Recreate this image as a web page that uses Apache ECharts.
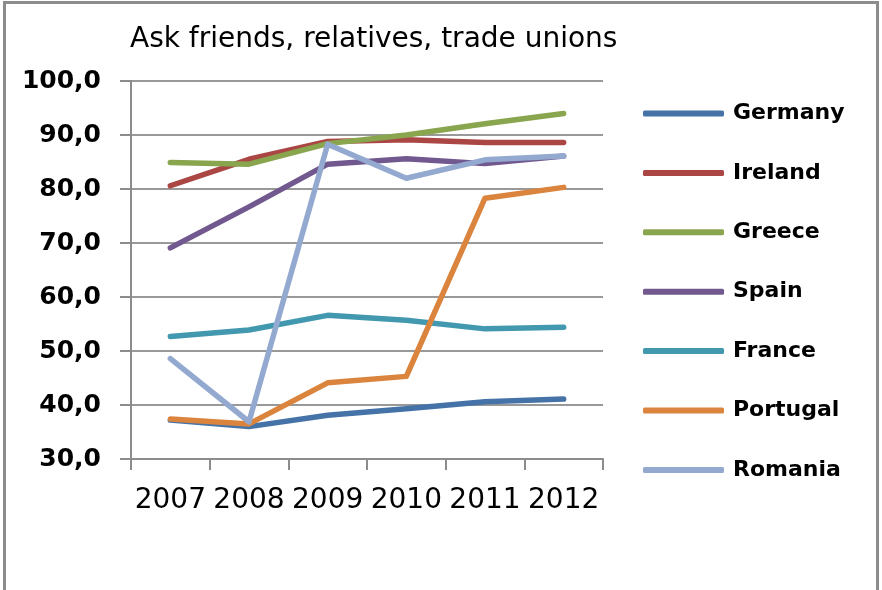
<!DOCTYPE html>
<html>
<head>
<meta charset="utf-8">
<script src="https://cdn.jsdelivr.net/npm/echarts@6/dist/echarts.min.js"></script>
<style>
  html, body { margin: 0; padding: 0; background: #fff; }
  #chart { width: 882px; height: 590px; }
</style>
</head>
<body>
<div id="chart"></div>
<script>
// Survey share answering "Ask friends, relatives, trade unions", by country and year
const years = ['2007', '2008', '2009', '2010', '2011', '2012'];
const countries = ['Germany', 'Ireland', 'Greece', 'Spain', 'France', 'Portugal', 'Romania'];
const germany  = [37.2, 36.0, 38.1, 39.3, 40.6, 41.1];
const ireland  = [80.6, 85.5, 88.8, 89.1, 88.6, 88.6];
const greece   = [84.9, 84.6, 88.4, 90.0, 92.1, 94.0];
const spain    = [69.1, 76.7, 84.6, 85.6, 84.7, 86.1];
const france   = [52.7, 53.9, 56.6, 55.7, 54.1, 54.4];
const portugal = [37.4, 36.5, 44.1, 45.3, 78.3, 80.3];
const romania  = [48.6, 36.9, 88.3, 82.0, 85.4, 86.1];
const yMin = 30, yMax = 100, yStep = 10;

const values = [germany, ireland, greece, spain, france, portugal, romania];
const palette = ['#4572A7', '#AA4643', '#89A54E', '#71588F', '#4198AF', '#DB843D', '#93A9CF'];

const chart = echarts.init(document.getElementById('chart'), null, { renderer: 'canvas' });

chart.setOption({
  animation: false,
  backgroundColor: '#ffffff',
  color: palette,
  graphic: [{
    type: 'rect',
    shape: { x: 4.5, y: 2.5, width: 873, height: 600 },
    style: { fill: 'none', stroke: '#8c8c8c', lineWidth: 3 },
    silent: true
  }],
  title: {
    text: 'Ask friends, relatives, trade unions',
    left: 130,
    top: 26,
    padding: 0,
    textStyle: { fontFamily: 'DejaVu Sans', fontSize: 28, fontWeight: 'normal', color: '#000' }
  },
  legend: {
    orient: 'vertical',
    left: 643,
    top: 102,
    padding: 0,
    icon: 'roundRect',
    itemWidth: 81,
    itemHeight: 6,
    itemGap: 36.4,
    data: countries,
    textStyle: {
      fontFamily: 'DejaVu Sans', fontSize: 22, fontWeight: 'bold', color: '#000',
      lineHeight: 23, padding: [0, 0, 0, 4]
    }
  },
  grid: { left: 131, right: 279, top: 81, bottom: 131, containLabel: false },
  xAxis: {
    type: 'category',
    data: years,
    boundaryGap: true,
    axisLine: { lineStyle: { color: '#8c8c8c', width: 2 } },
    axisTick: { show: true, length: 11, inside: false, alignWithLabel: false, lineStyle: { color: '#8c8c8c', width: 2 } },
    axisLabel: { margin: 28, fontFamily: 'DejaVu Sans', fontSize: 28, color: '#000', interval: 0 },
    splitLine: { show: false }
  },
  yAxis: {
    type: 'value',
    min: yMin,
    max: yMax,
    interval: yStep,
    axisLine: { show: true, lineStyle: { color: '#8c8c8c', width: 2 } },
    axisTick: { show: true, length: 11, lineStyle: { color: '#8c8c8c', width: 2 } },
    axisLabel: {
      margin: 30,
      fontFamily: 'DejaVu Sans',
      fontSize: 25,
      fontWeight: 'bold',
      color: '#000',
      formatter: v => v.toFixed(1).replace('.', ',')
    },
    splitLine: { show: true, lineStyle: { color: '#999999', width: 2 } }
  },
  series: countries.map((name, i) => ({
    name,
    type: 'line',
    data: values[i],
    symbol: 'none',
    showSymbol: false,
    lineStyle: { width: 5.5, cap: 'round', join: 'round', color: palette[i] },
    itemStyle: { color: palette[i] },
    z: 2 + i
  }))
});
</script>
</body>
</html>
